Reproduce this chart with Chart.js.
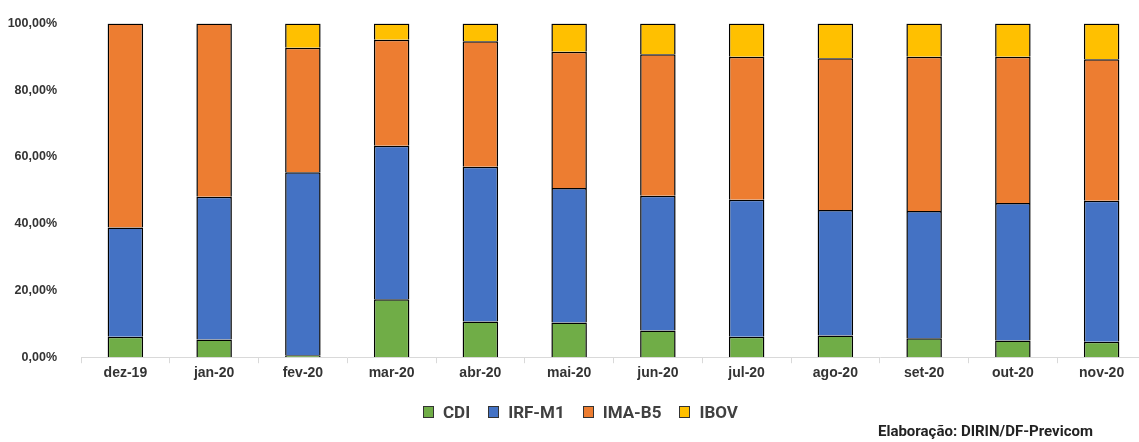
<!DOCTYPE html>
<html>
<head>
<meta charset="utf-8">
<script src="https://cdn.jsdelivr.net/npm/chart.js@4.4.0/dist/chart.umd.min.js"></script>
<style>
  html, body { margin: 0; padding: 0; background: #fff; overflow: hidden; }
  #wrap { position: relative; width: 1146px; height: 442px; }
  #legend { position: absolute; left: 423px; top: 402px; display: flex; align-items: center;
            font-family: "Liberation Sans Narrow", "Roboto", sans-serif; font-weight: bold; font-size: 17px; color: #404040; }
  #legend span.item { display: flex; align-items: center; margin-right: 18px; }
  #legend span.box { width: 9px; height: 10px; margin-right: 9px; border: 1px solid #333; }
  #source { position: absolute; left: 878px; top: 422px; font-family: Roboto, sans-serif;
            font-weight: bold; font-size: 15px; color: #222; }
</style>
</head>
<body>
<div id="wrap">
  <canvas id="myChart" width="1146" height="442"></canvas>
  <div id="legend"></div>
  <div id="source">Elaboração: DIRIN/DF-Previcom</div>
</div>
<script>
const labels = ['dez-19', 'jan-20', 'fev-20', 'mar-20', 'abr-20', 'mai-20', 'jun-20', 'jul-20', 'ago-20', 'set-20', 'out-20', 'nov-20'];
const cdi   = [6.1, 5.3, 0.6, 17.4, 10.7, 10.4, 8.0, 6.1, 6.5, 5.7, 5.0, 4.6];
const irfM1 = [32.8, 42.8, 54.8, 46.0, 46.4, 40.3, 40.4, 41.1, 37.6, 38.1, 41.2, 42.3];
const imaB5 = [61.1, 51.9, 37.3, 31.7, 37.6, 40.8, 42.4, 42.8, 45.5, 46.2, 43.8, 42.4];
const ibov  = [0, 0, 7.3, 4.9, 5.3, 8.5, 9.2, 10.0, 10.4, 10.0, 10.0, 10.7];

const seriesNames = ['CDI', 'IRF-M1', 'IMA-B5', 'IBOV'];
const colors = ['#70AD47', '#4472C4', '#ED7D31', '#FFC000'];

const ctx = document.getElementById('myChart').getContext('2d');

const datasets = [cdi, irfM1, imaB5, ibov].map((d, i) => ({
  label: seriesNames[i],
  data: d,
  backgroundColor: colors[i],
  borderColor: '#000',
  borderWidth: 1.5,
  barPercentage: 0.4,
  categoryPercentage: 1
}));

const tickFont = { family: 'Liberation Sans', size: 14, weight: 'bold' };

const chart = new Chart(ctx, {
  type: 'bar',
  data: { labels: labels, datasets: datasets },
  options: {
    responsive: false,
    animation: false,
    layout: { padding: { left: 0, top: 10, right: 0, bottom: 58 } },
    scales: {
      x: {
        stacked: true,
        grid: { display: true, drawOnChartArea: false, color: '#d9d9d9', tickLength: 6 },
        border: { display: true, color: '#d9d9d9', width: 1 },
        ticks: { color: '#333', font: tickFont, padding: 2 }
      },
      y: {
        stacked: true,
        min: 0,
        max: 100,
        grid: { display: false },
        border: { display: false },
        afterFit: s => { s.width = 81; },
        ticks: {
          stepSize: 20,
          color: '#333',
          font: { family: 'Liberation Sans', size: 12.5, weight: 'bold' },
          padding: 16,
          callback: v => v.toFixed(2).replace('.', ',') + '%'
        }
      }
    },
    plugins: {
      legend: { display: false },
      tooltip: { enabled: false }
    }
  }
});

// legenda em html
const legend = document.getElementById('legend');
seriesNames.forEach((n, i) => {
  const it = document.createElement('span');
  it.className = 'item';
  it.innerHTML = '<span class="box" style="background:' + colors[i] + '"></span>' + n;
  legend.appendChild(it);
});
</script>
</body>
</html>
